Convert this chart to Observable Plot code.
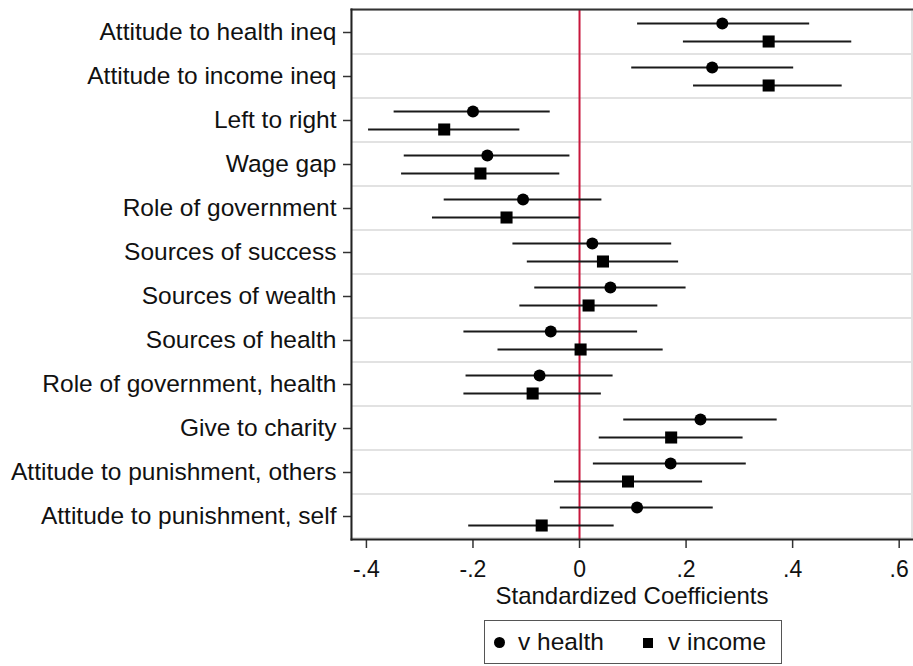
<!DOCTYPE html>
<html>
<head>
<meta charset="utf-8">
<script src="https://cdn.jsdelivr.net/npm/d3@7"></script>
<script src="https://cdn.jsdelivr.net/npm/@observablehq/plot@0.6"></script>
<style>
  html, body { margin: 0; padding: 0; background: #fff; }
  body { width: 913px; height: 666px; position: relative; overflow: hidden; font-family: "Liberation Sans", Arial, sans-serif; }
  #legend { position: absolute; left: 484px; top: 620px; width: 298px; height: 44px; border: 1px solid #555; box-sizing: border-box;
    font-size: 24.5px; color: #111; }
  #legend span { position: absolute; }
  .dot { width: 11px; height: 11px; border-radius: 50%; background: #000; left: 9px; top: 16px; }
  .sq { width: 10px; height: 10px; background: #000; left: 158px; top: 17px; }
  .t1 { left: 33px; top: 7px; }
  .t2 { left: 183px; top: 7px; }
</style>
</head>
<body>
<div id="chart"></div>
<div id="legend"><span class="dot"></span><span class="t1">v health</span><span class="sq"></span><span class="t2">v income</span></div>
<script>
const categories = [
  "Attitude to health ineq",
  "Attitude to income ineq",
  "Left to right",
  "Wage gap",
  "Role of government",
  "Sources of success",
  "Sources of wealth",
  "Sources of health",
  "Role of government, health",
  "Give to charity",
  "Attitude to punishment, others",
  "Attitude to punishment, self"
];
const healthCoef = [0.268, 0.249, -0.200, -0.173, -0.106, 0.024, 0.058, -0.054, -0.075, 0.227, 0.171, 0.108];
const healthLo   = [0.109, 0.098, -0.348, -0.329, -0.254, -0.125, -0.084, -0.217, -0.213, 0.083, 0.026, -0.036];
const healthHi   = [0.432, 0.402, -0.055, -0.018, 0.042, 0.173, 0.200, 0.109, 0.063, 0.371, 0.313, 0.251];
const incomeCoef = [0.355, 0.355, -0.254, -0.186, -0.137, 0.044, 0.017, 0.002, -0.088, 0.172, 0.091, -0.071];
const incomeLo   = [0.195, 0.214, -0.396, -0.334, -0.276, -0.098, -0.112, -0.153, -0.217, 0.037, -0.047, -0.208];
const incomeHi   = [0.511, 0.493, -0.112, -0.037, 0.001, 0.186, 0.147, 0.157, 0.041, 0.307, 0.231, 0.065];
const xTicks = [-0.4, -0.2, 0, 0.2, 0.4, 0.6];

const health = categories.map((c, i) => ({cat: c, est: healthCoef[i], lo: healthLo[i], hi: healthHi[i]}));
const income = categories.map((c, i) => ({cat: c, est: incomeCoef[i], lo: incomeLo[i], hi: incomeHi[i]}));

const fmt = d => d === 0 ? "0" : d3.format(".1f")(d).replace("\u2212", "-").replace("0.", ".");

const chart = Plot.plot({
  width: 913,
  height: 615,
  marginLeft: 351,
  marginRight: 1,
  marginTop: 9,
  marginBottom: 76,
  style: {fontFamily: "Liberation Sans, Arial, sans-serif", fontSize: "24px", color: "#111", background: "#fff"},
  x: {domain: [-0.428, 0.625]},
  y: {domain: categories, padding: 0},
  marks: [
    Plot.cell(categories, {y: d => d, fill: "none", stroke: "#e2e2e2", strokeWidth: 2}),
    Plot.ruleX([0], {stroke: "#c8173c", strokeWidth: 2}),
    Plot.ruleY(health, {y: "cat", x1: "lo", x2: "hi", dy: -9, stroke: "#1a1a1a", strokeWidth: 2}),
    Plot.ruleY(income, {y: "cat", x1: "lo", x2: "hi", dy: 9, stroke: "#1a1a1a", strokeWidth: 2}),
    Plot.dot(health, {y: "cat", x: "est", dy: -9, symbol: "circle", r: 6, fill: "#000", stroke: "none"}),
    Plot.dot(income, {y: "cat", x: "est", dy: 9, symbol: "square", r: 6.8, fill: "#000", stroke: "none"}),
    Plot.axisY({tickSize: 8, tickPadding: 7, fontSize: 24.5, label: null, stroke: "#333", strokeWidth: 1.5}),
    Plot.axisX({ticks: xTicks, tickFormat: fmt, tickSize: 9, tickPadding: 12, fontSize: 23, label: null, stroke: "#333", strokeWidth: 1.5}),
    Plot.text(["Standardized Coefficients"], {frameAnchor: "bottom", dy: 64, fontSize: 24, fill: "#111"}),
    Plot.frame({anchor: "top", stroke: "#333", strokeWidth: 2}),
    Plot.frame({anchor: "left", stroke: "#222", strokeWidth: 2}),
    Plot.frame({anchor: "bottom", stroke: "#222", strokeWidth: 2})
  ]
});
document.getElementById("chart").appendChild(chart);
</script>
</body>
</html>
